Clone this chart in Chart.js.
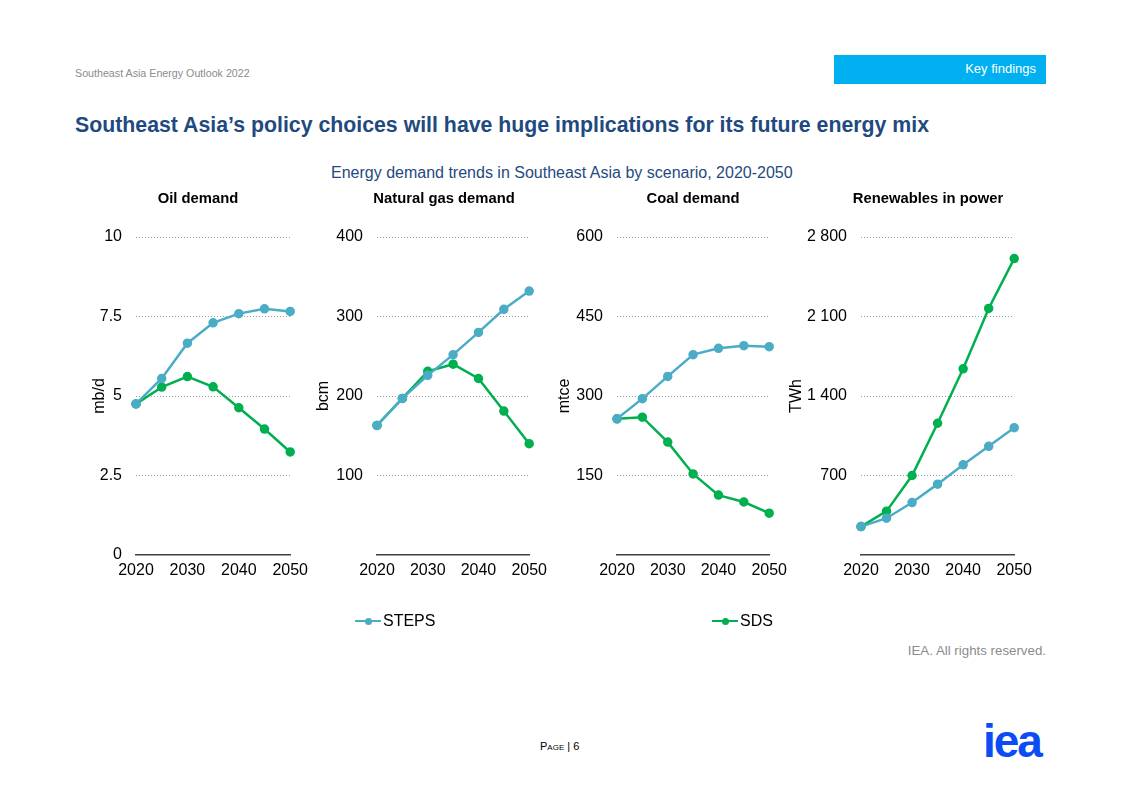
<!DOCTYPE html>
<html>
<head>
<meta charset="utf-8">
<script src="https://cdn.jsdelivr.net/npm/chart.js@4"></script>
<style>
  body { margin: 0; background: #fff; font-family: "Liberation Sans", Arial, sans-serif; }
  #page { position: relative; width: 1122px; height: 793px; overflow: hidden; }
  .abs { position: absolute; white-space: nowrap; }
  canvas { position: absolute; }
  .leg { position: absolute; font-size: 16px; color: #000; display: flex; align-items: center; }
  .leg .ln { position: relative; width: 26px; height: 2px; margin-right: 2px; }
  .leg .ln i { position: absolute; left: 10px; top: -2.5px; width: 7px; height: 7px; border-radius: 50%; }
</style>
</head>
<body>
<div id="page">
  <div class="abs" style="left:75px;top:67px;font-size:10.7px;color:#8c8c8c;">Southeast Asia Energy Outlook 2022</div>
  <div class="abs" style="left:834px;top:55px;width:212px;height:29px;background:#00b0f0;"></div>
  <div class="abs" style="right:86px;top:61px;font-size:13px;color:#fff;">Key findings</div>
  <div class="abs" style="left:75px;top:113px;font-size:21.3px;font-weight:bold;color:#1f4a7f;">Southeast Asia’s policy choices will have huge implications for its future energy mix</div>
  <div class="abs" style="left:331px;top:164px;font-size:16px;color:#1f4a7f;">Energy demand trends in Southeast Asia by scenario, 2020-2050</div>

  <canvas id="c0"></canvas>
  <canvas id="c1"></canvas>
  <canvas id="c2"></canvas>
  <canvas id="c3"></canvas>

  <div class="leg" style="left:355px;top:612px;"><span class="ln" style="background:#4bacc6"><i style="background:#4bacc6"></i></span>STEPS</div>
  <div class="leg" style="left:712px;top:612px;"><span class="ln" style="background:#00b050"><i style="background:#00b050"></i></span>SDS</div>

  <div class="abs" style="right:76px;top:643px;font-size:13.3px;color:#8c8c8c;">IEA. All rights reserved.</div>
  <div class="abs" style="left:540px;top:740px;font-size:11px;color:#000;font-variant:small-caps;">Page | 6</div>
  <div class="abs" style="left:983px;top:714px;font-size:46px;font-weight:bold;color:#0b4cf5;letter-spacing:-2px;">iea</div>
</div>
<script>
// data
const years = [2020, 2025, 2030, 2035, 2040, 2045, 2050];
const panelTitles = ['Oil demand', 'Natural gas demand', 'Coal demand', 'Renewables in power'];
const units = ['mb/d', 'bcm', 'mtce', 'TWh'];
const seriesNames = ['STEPS', 'SDS'];

const oilSteps = [4.75, 5.55, 6.66, 7.3, 7.59, 7.74, 7.66];
const oilSds   = [4.75, 5.28, 5.61, 5.29, 4.63, 3.96, 3.24];
const gasSteps = [163, 197, 226, 252, 280, 309, 332];
const gasSds   = [163, 197, 231, 240, 222, 181, 140];
const coalSteps = [257, 295, 337, 378, 390, 395, 393];
const coalSds   = [257, 260, 213, 153, 113, 100, 79];
const renSteps = [250, 324, 462, 624, 794, 957, 1121];
const renSds   = [250, 386, 700, 1160, 1639, 2171, 2610];

const yMax = [10, 400, 600, 2800];
const yStep = [2.5, 100, 150, 700];
const xTicks = [2020, 2030, 2040, 2050];

const steps = [oilSteps, gasSteps, coalSteps, renSteps];
const sds = [oilSds, gasSds, coalSds, renSds];

// layout of each small chart: canvas left, y-axis box width, plot right, title centre
const boxes = [
  { left: 85, axisW: 51, right: 292, titleX: 198 },
  { left: 309, axisW: 68, right: 531, titleX: 444 },
  { left: 550, axisW: 67, right: 771, titleX: 693 },
  { left: 782, axisW: 79, right: 1016, titleX: 928 }
];
const TOP = 220, PLOT_BOTTOM = 555, X_H = 30, PAD_R = 22;

const blue = '#4bacc6', green = '#00b050';
const font = 'Liberation Sans, Arial, sans-serif';

function fmt(v, i) {
  if (v === 0) return i === 0 ? '0' : '';
  if (i === 3) return String(v).replace(/\B(?=(\d{3})+(?!\d))/g, ' ');
  return String(v);
}

// panel title drawn above each plot
const titlePlugin = {
  id: 'panelTitle',
  afterDraw(chart, args, opts) {
    const { ctx } = chart;
    ctx.save();
    ctx.font = 'bold 14.8px ' + font;
    ctx.fillStyle = '#000';
    ctx.textAlign = 'center';
    ctx.textBaseline = 'middle';
    ctx.fillText(opts.text, opts.x, opts.y);
    ctx.restore();
  }
};

boxes.forEach((b, i) => {
  const cv = document.getElementById('c' + i);
  const w = b.right + PAD_R - b.left;
  const h = PLOT_BOTTOM - TOP + X_H;
  cv.style.left = b.left + 'px';
  cv.style.top = (TOP - 40) + 'px';
  cv.style.width = w + 'px';
  cv.style.height = (h + 40) + 'px';
  cv.width = w; cv.height = h + 40;

  const mk = (arr) => years.map((x, k) => ({ x: x, y: arr[k] }));

  new Chart(cv, {
    type: 'line',
    data: {
      datasets: [
        { label: seriesNames[0], data: mk(steps[i]), borderColor: blue, backgroundColor: blue,
          borderWidth: 2.5, pointRadius: 3.5, pointHoverRadius: 3.5, clip: false },
        { label: seriesNames[1], data: mk(sds[i]), borderColor: green, backgroundColor: green,
          borderWidth: 2.5, pointRadius: 3.5, pointHoverRadius: 3.5, clip: false }
      ]
    },
    options: {
      responsive: false,
      animation: false,
      layout: { padding: { top: 57, right: PAD_R, left: 0, bottom: 0 } },
      plugins: {
        legend: { display: false },
        tooltip: { enabled: false },
        panelTitle: { text: panelTitles[i], x: b.titleX - b.left, y: 19 }
      },
      scales: {
        x: {
          type: 'linear', min: 2020, max: 2050,
          afterBuildTicks: (s) => { s.ticks = xTicks.map(v => ({ value: v })); },
          afterFit: (s) => { s.height = X_H; },
          grid: { display: false, drawTicks: false },
          border: { display: true, color: '#404040', width: 1.5 },
          ticks: { color: '#000', font: { family: font, size: 16 }, padding: 6,
                   maxRotation: 0, autoSkip: false, callback: (v) => String(v) }
        },
        y: {
          min: 0, max: yMax[i],
          afterFit: (s) => { s.width = b.axisW; },
          grid: { drawTicks: false,
                  color: (c) => c.tick.value === 0 ? 'rgba(0,0,0,0)' : '#a0a0a0',
                  lineWidth: 1 },
          border: { display: false, dash: [1, 2] },
          ticks: { stepSize: yStep[i], color: '#000', font: { family: font, size: 16 }, padding: 14,
                   callback: (v) => fmt(v, i) },
          title: { display: true, text: units[i], color: '#000', font: { family: font, size: 16 },
                   padding: { top: 5, bottom: 0 } }
        }
      }
    },
    plugins: [titlePlugin]
  });
});
</script>
</body>
</html>
